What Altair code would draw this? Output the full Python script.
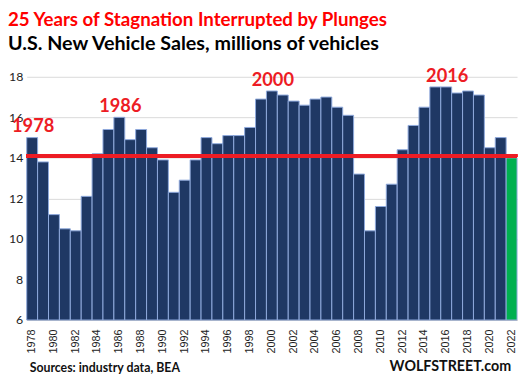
import altair as alt
import pandas as pd

years = list(range(1978, 2023))
sales = [15.0, 13.8, 11.2, 10.5, 10.4, 12.1, 14.2, 15.4, 16.0, 14.9,
         15.4, 14.5, 13.9, 12.3, 12.9, 13.9, 15.0, 14.7, 15.1, 15.1,
         15.5, 16.9, 17.3, 17.1, 16.8, 16.6, 16.9, 17.0, 16.5, 16.1,
         13.2, 10.4, 11.6, 12.7, 14.4, 15.6, 16.5, 17.5, 17.5, 17.2,
         17.3, 17.1, 14.5, 15.0, 14.0]
highlight_year = 2022
ref_level = 14.1
ann_years = [1978, 1986, 2000, 2016]
tick_years = [y for y in years if y % 2 == 0]

df = pd.DataFrame({"year": years, "sales": sales})
df["kind"] = ["current" if y == highlight_year else "past" for y in years]
ann = df[df["year"].isin(ann_years)].copy()
ann["label"] = ann["year"].astype(str)

FONT = "Lato"

x_enc = alt.X("year:O", sort=years,
              scale=alt.Scale(paddingInner=0, paddingOuter=0),
              axis=alt.Axis(values=tick_years, labelAngle=-90, title=None,
                            labelFont="Liberation Sans", labelFontSize=11,
                            labelColor="#222", labelPadding=9,
                            ticks=False, domainColor="#BFBFBF", grid=False))
y_scale = alt.Scale(domain=[6, 18], nice=False, zero=False)

bars = alt.Chart(df).mark_bar(stroke="#8FAADC", strokeWidth=1).encode(
    x=x_enc,
    y=alt.Y("sales:Q", scale=y_scale,
            axis=alt.Axis(values=list(range(6, 19)), title=None, domain=False,
                          ticks=False, labelFont=FONT, labelFontSize=12.5,
                          labelColor="#222", labelPadding=4,
                          gridColor="#D9D9D9", gridWidth=1)),
    y2=alt.datum(6),
    color=alt.Color("kind:N", scale=alt.Scale(domain=["past", "current"],
                                              range=["#1F3864", "#00B050"]),
                    legend=None),
)

rule = alt.Chart(df).mark_rule(color="#ED1C24", strokeWidth=3).encode(
    y=alt.datum(ref_level)
)

labels = alt.Chart(ann).mark_text(
    font=FONT, fontSize=18.5, fontWeight="bold", color="#ED1C24",
    baseline="bottom", dy=-1.5, dx=1
).encode(x=alt.X("year:O", sort=years), y=alt.Y("sales:Q", scale=y_scale),
         text="label:N")

src = alt.Chart(pd.DataFrame({"t": ["Sources: industry data, BEA"]})).mark_text(
    font=FONT, fontSize=12.5, fontWeight="bold", color="#111", align="left",
    baseline="alphabetic"
).encode(x=alt.value(3), y=alt.value(300), text="t:N")

brand = alt.Chart(pd.DataFrame({"t": ["WOLFSTREET.com"]})).mark_text(
    font=FONT, fontSize=14.5, fontWeight="bold", color="#111", align="right",
    baseline="alphabetic"
).encode(x=alt.value(492), y=alt.value(299), text="t:N")

chart = alt.layer(bars, rule, labels, src, brand).properties(
    width=498, height=247,
    title=alt.TitleParams(
        text="25 Years of Stagnation  Interrupted by Plunges",
        subtitle="U.S. New Vehicle Sales, millions of vehicles",
        anchor="start", frame="group", dx=-19, offset=13,
        font=FONT, fontSize=19, fontWeight="bold", color="#FF0000",
        subtitleFont=FONT, subtitleFontSize=20, subtitleFontWeight="bold",
        subtitleColor="#000000", subtitlePadding=4),
    autosize=alt.AutoSizeParams(type="none"),
    padding={"left": 19, "top": 67, "right": 3, "bottom": 54},
).configure_view(stroke=None)

chart.save("out.html", embed_options={"renderer": "svg", "actions": False})
